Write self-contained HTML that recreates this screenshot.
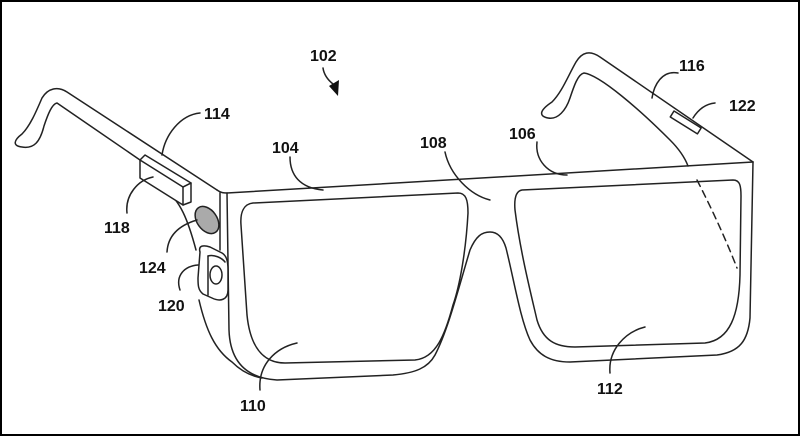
<!DOCTYPE html>
<html><head><meta charset="utf-8"><style>
html,body{margin:0;padding:0;background:#fff}
svg{display:block}
text{font-family:"Liberation Sans",Arial,sans-serif;font-weight:bold;font-size:16px;fill:#111}
</style></head><body>
<svg width="800" height="436" viewBox="0 0 800 436" xmlns="http://www.w3.org/2000/svg">
<rect x="1" y="1" width="798" height="434" fill="#fff" stroke="#000" stroke-width="2"/>
<g fill="none" stroke="#222" stroke-width="1.5" stroke-linejoin="round" stroke-linecap="round">
<path d="M217,190 L67,92 C58,86 48,88 42,98 C36,112 30,126 22,134 C14,140 12,146 22,147 C34,149 40,142 44,126 C48,114 52,104 57,103 L140,160"/>
<path d="M217,190 C221,193 224,193 227,193"/>
<path d="M165,190 C180,200 188,220 196,250"/>
<path d="M199,300 C206,330 215,350 232,362 C240,370 250,376 262,378"/>
<path d="M220,193 L220,250"/>
<path d="M227,193 L753,162"/>
<path d="M227,193 L229,330 C230,360 245,378 277,380 L393,375 C415,373 428,368 435,355 C448,330 458,290 470,250 C476,236 482,232 490,232 C498,232 503,238 506,248 C514,280 520,318 530,340 C538,355 550,362 570,362 L717,355 C740,352 748,340 750,318 L753,162"/>
<path d="M253,203 L458,193 C466,193 468,200 468,213 C466,250 460,285 453,305 C445,335 436,358 415,360 L285,363 C262,363 250,345 247,315 L241,225 C240,212 244,204 253,203 Z"/>
<path d="M522,190 L733,180 C740,180 741,186 741,196 L740,275 C739,315 730,340 705,343 L575,347 C555,347 543,340 537,320 C530,290 520,250 515,210 C514,198 516,191 522,190 Z"/>
<path d="M753,162 L600,57 C590,50 582,52 576,62 C568,76 562,92 552,102 C540,110 538,116 548,118 C558,120 566,110 570,98 C574,86 578,74 584,73 C600,75 640,110 670,140 C680,150 685,158 688,166"/>
<path d="M697,180 C715,215 728,245 737,268" stroke-dasharray="7,5"/>
<rect x="674" y="111" width="32" height="7" transform="rotate(32 674 111)" fill="#fff"/>
<path d="M140,160 L183,187 L183,205 L140,178 Z" fill="#fff"/>
<path d="M140,160 L145,155 L191,183 L183,187"/>
<path d="M183,187 L191,183 L191,202 L183,205"/>
<ellipse cx="207" cy="220" rx="10" ry="15" transform="rotate(-35 207 220)" fill="#aaa"/>
<path d="M200,252 C198,245 204,245 210,247 L222,253 C227,256 228,262 228,270 L228,290 C228,300 220,302 212,298 L203,294 C198,290 198,285 198,278 Z" fill="#fff"/>
<path d="M208,256 C214,254 222,258 225,262"/>
<path d="M208,256 L208,295"/>
<ellipse cx="216" cy="275" rx="6" ry="9"/>
<path d="M200,113 C180,115 165,135 162,155"/>
<path d="M290,157 C290,175 300,188 323,190"/>
<path d="M127,213 C125,195 138,180 153,177"/>
<path d="M167,252 C168,235 180,225 197,220"/>
<path d="M180,290 C175,275 185,266 198,265"/>
<path d="M260,390 C258,365 275,348 297,343"/>
<path d="M445,152 C450,175 470,195 490,200"/>
<path d="M537,142 C535,160 548,175 567,175"/>
<path d="M610,373 C608,350 625,332 645,327"/>
<path d="M678,73 C662,70 654,85 652,98"/>
<path d="M715,103 C705,104 698,110 693,118"/>
<path d="M323,68 C324,75 328,80 333,84"/>
</g>
<path d="M329,86 L339,80 L338,96 Z" fill="#111"/>
<text x="310" y="61">102</text>
<text x="204" y="119">114</text>
<text x="272" y="153">104</text>
<text x="420" y="148">108</text>
<text x="509" y="139">106</text>
<text x="679" y="71">116</text>
<text x="729" y="111">122</text>
<text x="104" y="233">118</text>
<text x="139" y="273">124</text>
<text x="158" y="311">120</text>
<text x="240" y="411">110</text>
<text x="597" y="394">112</text>
</svg>
</body></html>
